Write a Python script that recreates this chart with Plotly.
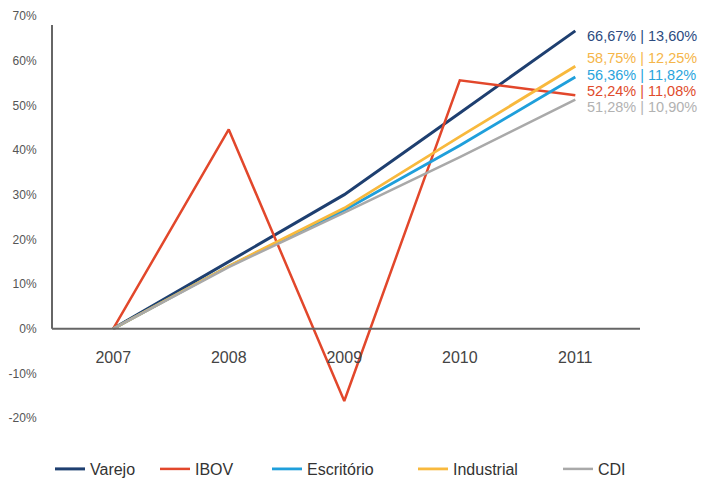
import plotly.graph_objects as go

# Accumulated return per year (%)
years = [2007, 2008, 2009, 2010, 2011]
varejo = [0, 15.0, 30.0, 48.3, 66.67]
ibov = [0, 44.6, -16.2, 55.6, 52.24]
escritorio = [0, 14.0, 26.5, 41.0, 56.36]
industrial = [0, 14.0, 27.0, 43.0, 58.75]
cdi = [0, 13.8, 26.0, 38.4, 51.28]

# End-of-period labels: total | annualised
end_labels = ["66,67% | 13,60%", "52,24% | 11,08%", "56,36% | 11,82%",
              "58,75% | 12,25%", "51,28% | 10,90%"]

y_ticks = [-20, -10, 0, 10, 20, 30, 40, 50, 60, 70]
y_ticktext = [f"{v}%" for v in y_ticks]

names = ["Varejo", "IBOV", "Escritório", "Industrial", "CDI"]
series = [varejo, ibov, escritorio, industrial, cdi]

line_colors = ["#1e3f70", "#e2472b", "#1f9fdb", "#f8b93d", "#a9a9a9"]
label_colors = ["#2c4b7f", "#e04b2c", "#2aa4dc", "#f5b64a", "#b2b2b2"]
line_widths = [3, 2.5, 2.8, 2.8, 2.5]
label_yshift = [-5, 4, 2, 8, -7]
legend_left = [50, 155, 267, 413, 558]

FONT = "Liberation Sans, Arial, sans-serif"
W, H = 705, 482
ML, MR, MT, MB = 52, 65, 16, 64
PW, PH = W - ML - MR, H - MT - MB

fig = go.Figure()
legend_layout = {}
for i, (name, vals) in enumerate(zip(names, series)):
    key = "legend" if i == 0 else f"legend{i + 1}"
    fig.add_trace(go.Scatter(
        x=years, y=vals, name=name, mode="lines",
        line=dict(color=line_colors[i], width=line_widths[i]),
        legend=key, showlegend=True, hoverinfo="skip",
    ))
    legend_layout[key] = dict(
        visible=True,
        x=(legend_left[i] - ML) / PW, xanchor="left",
        y=(H - MB - 469) / PH, yanchor="middle",
        bgcolor="rgba(0,0,0,0)", borderwidth=0,
        font=dict(family=FONT, size=16, color="#333333"),
    )
    fig.add_annotation(
        x=years[-1], y=vals[-1], xref="x", yref="y",
        text=end_labels[i], showarrow=False, borderpad=0,
        xanchor="left", yanchor="middle", xshift=11, yshift=label_yshift[i],
        font=dict(family=FONT, size=14.5, color=label_colors[i]),
    )

# axis lines: vertical one only above zero
fig.add_shape(type="line", xref="paper", yref="y", x0=0, x1=0, y0=0, y1=68,
              line=dict(color="#666666", width=2))
fig.add_shape(type="line", xref="paper", yref="y", x0=0, x1=1, y0=0, y1=0,
              line=dict(color="#666666", width=2))

fig.update_layout(
    width=W, height=H,
    showlegend=True,
    margin=dict(l=ML, r=MR, t=MT, b=MB, autoexpand=False),
    paper_bgcolor="white", plot_bgcolor="white",
    font=dict(family=FONT),
    **legend_layout,
)

fig.update_xaxes(
    range=[2006.47, 2011.56], tickvals=years, ticktext=[str(y) for y in years],
    anchor="free", position=20 / 90, showline=False, showgrid=False,
    zeroline=False, ticks="outside", ticklen=14, tickcolor="rgba(0,0,0,0)",
    tickfont=dict(family=FONT, size=16, color="#444444"),
    automargin=False,
)
fig.update_yaxes(
    range=[-20, 70], tickvals=y_ticks, ticktext=y_ticktext,
    showline=False, showgrid=False, zeroline=False,
    ticks="outside", ticklen=12, tickcolor="rgba(0,0,0,0)",
    tickfont=dict(family=FONT, size=12, color="#555555"),
    automargin=False,
)

fig.write_html("out.html")
